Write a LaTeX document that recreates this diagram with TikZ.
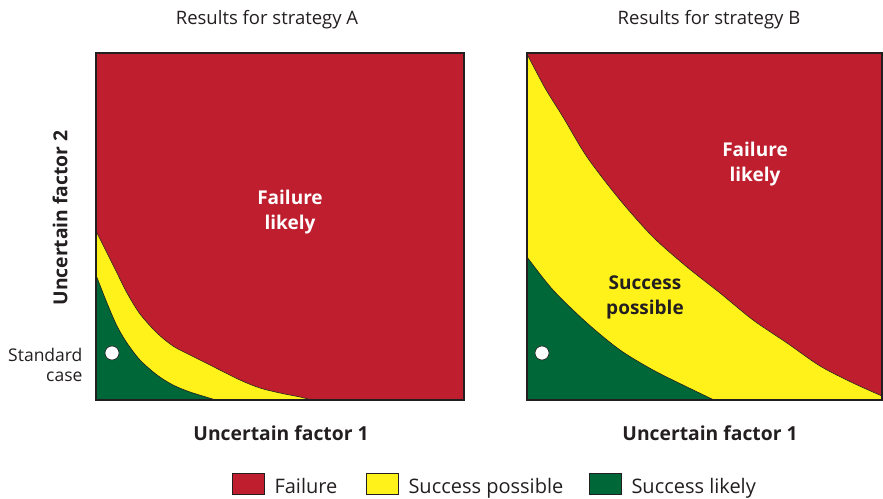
\documentclass[tikz,border=0pt]{standalone}
\usepackage{fontspec}
\setmainfont{Open Sans}
\usetikzlibrary{calc}
\definecolor{failred}{HTML}{BE1E2D}
\definecolor{possyellow}{HTML}{FFF21A}
\definecolor{likelygreen}{HTML}{006838}
\definecolor{inkgray}{HTML}{231F20}
\tikzset{
  frame/.style={draw=inkgray,line width=2pt},
  border/.style={draw=inkgray,line width=0.6pt},
  title/.style={font=\fontsize{18.5}{22}\selectfont,text=inkgray},
  axis/.style={font=\bfseries\fontsize{19.3}{22}\selectfont,text=inkgray},
  zone/.style={font=\bfseries\fontsize{19}{25}\selectfont,align=center},
  stdcase/.style={draw=inkgray,fill=white,line width=0.6pt,circle,minimum size=14pt,inner sep=0},
  key/.style={draw=inkgray,line width=0.6pt,minimum width=32pt,minimum height=21pt,inner sep=0},
  keytext/.style={anchor=base west,font=\fontsize{20}{24}\selectfont,text=inkgray,inner sep=0}
}

\begin{document}
\begin{tikzpicture}[x=1pt,y=-1pt]
    \useasboundingbox (0,0) rectangle (883,498);

    % strategy A
    \fill[failred] (96,53) rectangle (464,400);
    \fill[possyellow] plot[smooth] coordinates {(96,231) (107,253) (117,273) (127,293) (140,314) (157,333) (173,346) (190,355) (210,365) (240,380) (260,388) (280,393) (300,397) (312,400)} -- (96,400) -- cycle;
    \fill[likelygreen] plot[smooth] coordinates {(96,275) (107,303) (117,326) (127,343) (140,360) (157,375) (173,385) (190,392) (216,400)} -- (96,400) -- cycle;
    \draw[border] plot[smooth] coordinates {(96,231) (107,253) (117,273) (127,293) (140,314) (157,333) (173,346) (190,355) (210,365) (240,380) (260,388) (280,393) (300,397) (312,400)};
    \draw[border] plot[smooth] coordinates {(96,275) (107,303) (117,326) (127,343) (140,360) (157,375) (173,385) (190,392) (216,400)};
    \draw[frame] (96,53) rectangle (464,400);
    \node[stdcase] (stdA) at (112,353) {};

    % strategy B
    \fill[failred] (527,53) rectangle (882,400);
    \fill[possyellow] plot[smooth] coordinates {(527,54) (545,88) (563,117) (587,157) (620,200) (653,237) (687,267) (720,293) (753,320) (787,343) (820,366) (853,383) (882,396)} -- (882,400) -- (527,400) -- cycle;
    \fill[likelygreen] plot[smooth] coordinates {(527,257) (553,290) (587,323) (620,350) (653,370) (687,387) (714,400)} -- (527,400) -- cycle;
    \draw[border] plot[smooth] coordinates {(527,54) (545,88) (563,117) (587,157) (620,200) (653,237) (687,267) (720,293) (753,320) (787,343) (820,366) (853,383) (882,396)};
    \draw[border] plot[smooth] coordinates {(527,257) (553,290) (587,323) (620,350) (653,370) (687,387) (714,400)};
    \draw[frame] (527,53) rectangle (882,400);
    \node[stdcase] (stdB) at (542,353) {};

    % labels
    \node[title] (titleA) at (267,20) {Results for strategy A};
    \node[title] (titleB) at (709,20) {Results for strategy B};
    \node[zone,text=white] (failA) at (290,212) {Failure\\likely};
    \node[zone,text=white] (failB) at (755,164) {Failure\\likely};
    \node[zone,text=inkgray] (possB) at (645,297) {Success\\possible};
    \node[axis,rotate=90] (yaxis) at (60,218) {Uncertain factor 2};
    \node[axis] (xaxisA) at (281,433) {Uncertain factor 1};
    \node[axis] (xaxisB) at (710,433) {Uncertain factor 1};
    \node[font=\fontsize{17.5}{20}\selectfont,text=inkgray,align=right,anchor=east] (stdtxt) at (86,365) {Standard\\case};

    % legend
    \foreach \c/\x/\t in {failred/248/Failure,possyellow/382/Success possible,likelygreen/605/Success likely}
      \node[key,fill=\c] (key-\c) at (\x,484) {} node[keytext] at ($(key-\c.east)+(10,9)$) {\t};
\end{tikzpicture}
\end{document}
